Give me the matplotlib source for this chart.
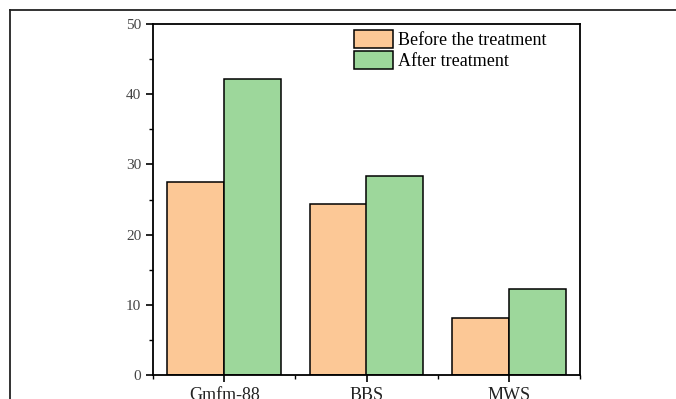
import matplotlib.pyplot as plt
import numpy as np
from matplotlib.lines import Line2D
from matplotlib.ticker import MultipleLocator, FixedLocator

categories = ["Gmfm-88", "BBS", "MWS"]
before = [27.5, 24.4, 8.1]
after = [42.2, 28.3, 12.2]
series_names = ["Before the treatment", "After treatment"]

plt.rcParams["font.family"] = ["Liberation Serif", "DejaVu Serif"]

fig = plt.figure(figsize=(6.76, 3.99), dpi=100)
ax = fig.add_axes([153 / 676, 1 - 375 / 399, 427 / 676, 351 / 399])

x = np.arange(len(categories))
w = 0.4
ax.bar(x - w / 2, before, w, color="#fcc896", edgecolor="black", linewidth=1.1,
       label=series_names[0])
ax.bar(x + w / 2, after, w, color="#9dd79b", edgecolor="black", linewidth=1.1,
       label=series_names[1])

ax.set_xlim(-0.5, 2.5)
ax.set_ylim(0, 50)
ax.set_xticks(x)
ax.set_xticklabels(categories, fontsize=13, color="#222222")
ax.xaxis.set_minor_locator(FixedLocator([-0.5, 0.5, 1.5, 2.5]))
ax.yaxis.set_major_locator(MultipleLocator(10))
ax.yaxis.set_minor_locator(MultipleLocator(5))
ax.tick_params(axis="y", labelsize=11, labelcolor="#444444")
ax.tick_params(which="major", length=5, width=1.2, direction="out")
ax.tick_params(which="minor", length=3, width=1.0, direction="out")
for s in ax.spines.values():
    s.set_linewidth(1.3)

ax.legend(loc="upper left", bbox_to_anchor=(0.455, 1.0), frameon=False,
          fontsize=13, handlelength=2.2, handleheight=1.1, handletextpad=0.25,
          labelspacing=0.12, borderpad=0.1, borderaxespad=0.25)

# outer frame, cut by the image edge
fig.add_artist(Line2D([10 / 676, 10 / 676], [0, 1 - 10 / 399], color="#222222", lw=1.3))
fig.add_artist(Line2D([10 / 676, 1], [1 - 10 / 399, 1 - 10 / 399], color="#222222", lw=1.3))

fig.savefig("out.png", dpi=100)
